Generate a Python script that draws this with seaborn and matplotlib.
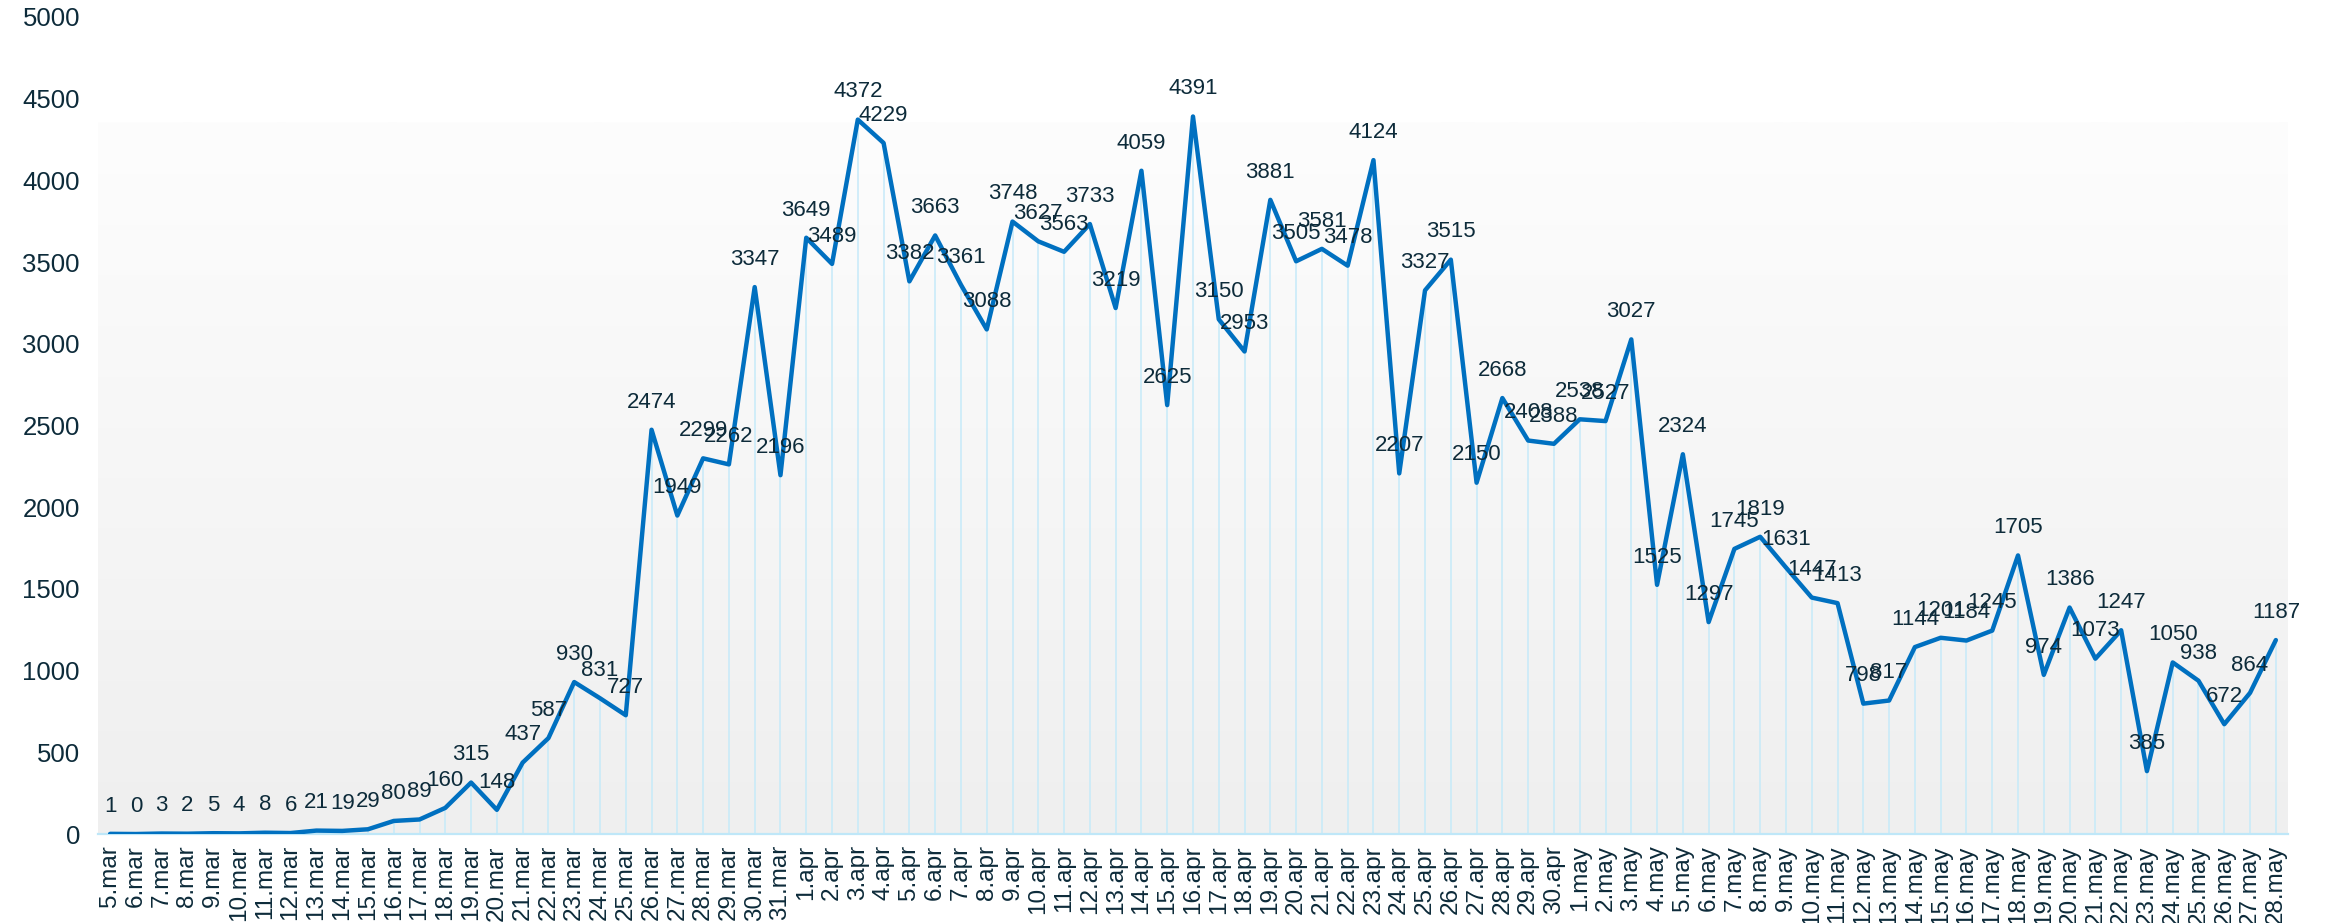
import numpy as np
import pandas as pd
import matplotlib
matplotlib.use("Agg")
import matplotlib.pyplot as plt
from matplotlib.colors import LinearSegmentedColormap
import seaborn as sns

# daily counts, 5 march - 28 may
march = [1, 0, 3, 2, 5, 4, 8, 6, 21, 19, 29, 80, 89, 160, 315, 148, 437, 587,
         930, 831, 727, 2474, 1949, 2299, 2262, 3347, 2196]
april = [3649, 3489, 4372, 4229, 3382, 3663, 3361, 3088, 3748, 3627, 3563, 3733,
         3219, 4059, 2625, 4391, 3150, 2953, 3881, 3505, 3581, 3478, 4124, 2207,
         3327, 3515, 2150, 2668, 2408, 2388]
may = [2538, 2527, 3027, 1525, 2324, 1297, 1745, 1819, 1631, 1447, 1413, 798,
       817, 1144, 1201, 1184, 1245, 1705, 974, 1386, 1073, 1247, 385, 1050, 938,
       672, 864, 1187]

month_names = {3: 'mar', 4: 'apr', 5: 'may'}
dates = pd.date_range('2020-03-05', '2020-05-28', freq='D')
labels = [f"{d.day}.{month_names[d.month]}" for d in dates]
y_ticks = list(range(0, 5001, 500))

df = pd.DataFrame({'dag': labels, 'antall': march + april + may})
df['pos'] = np.arange(len(df))

line_color = '#0070C0'
drop_color = '#c6eaf9'
text_color = '#0d2b3a'

sns.set_style('white')
plt.rcParams['font.family'] = ['Liberation Sans', 'DejaVu Sans']

fig = plt.figure(figsize=(23.28, 9.23), dpi=100)
ax = fig.add_axes([0.0421, 0.0964, 0.9407, 0.8852])

# soft grey gradient behind the plot
grad = np.linspace(0, 1, 256).reshape(-1, 1)
cmap = LinearSegmentedColormap.from_list('bg', ['#efefef', '#fdfdfd'])
ax.imshow(grad, cmap=cmap, origin='lower', aspect='auto',
          extent=(-0.5, len(df) - 0.5, 0, 4357), zorder=0)

ax.vlines(df['pos'], 0, df['antall'], color=drop_color, linewidth=1.1, zorder=1)
sns.lineplot(data=df, x='pos', y='antall', color=line_color, linewidth=3.2,
             ax=ax, zorder=3)

for x, v in zip(df['pos'], df['antall']):
    ax.annotate(str(v), (x, v), xytext=(0, 16), textcoords='offset points',
                ha='center', va='baseline', fontsize=16, color=text_color,
                zorder=4)

ax.set_xlim(-0.47, len(df) - 0.53)
ax.set_ylim(0, 5000)
ax.set_xticks(df['pos'])
ax.set_xticklabels(df['dag'], rotation=90, fontsize=17.5, color=text_color)
ax.set_yticks(y_ticks)
ax.set_yticklabels([str(t) for t in y_ticks], fontsize=18.5, color=text_color)
ax.tick_params(axis='both', length=0)
ax.tick_params(axis='x', pad=8)
ax.tick_params(axis='y', pad=13)
ax.set_xlabel('')
ax.set_ylabel('')
ax.set_facecolor('white')
for side in ['top', 'right', 'left']:
    ax.spines[side].set_visible(False)
ax.spines['bottom'].set_color('#bfe7f8')
ax.spines['bottom'].set_linewidth(1.6)
ax.spines['bottom'].set_zorder(2)

fig.savefig('out.png', dpi=100)
